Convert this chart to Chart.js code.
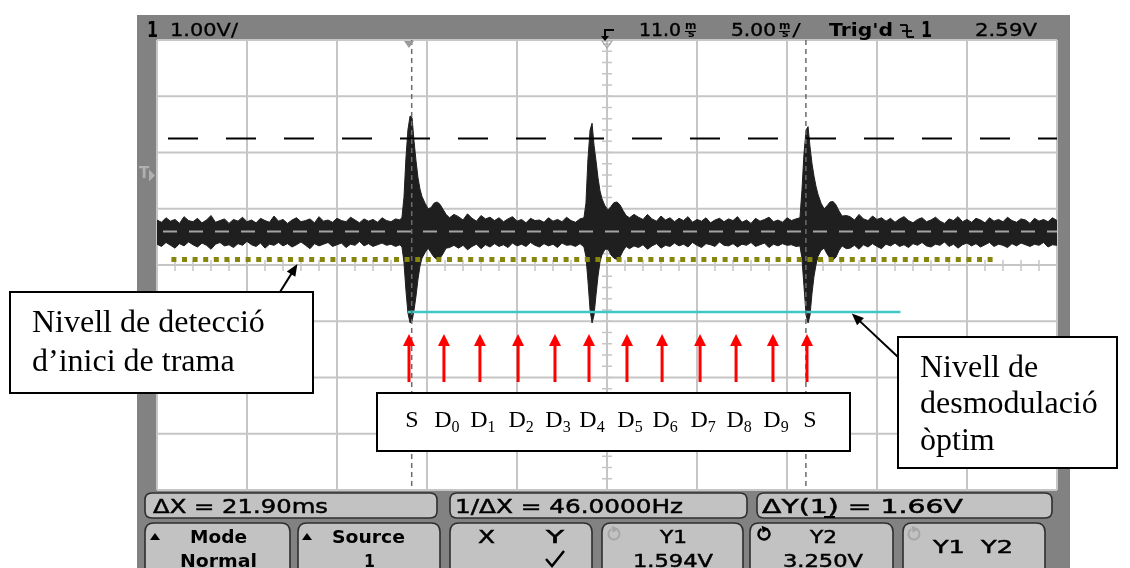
<!DOCTYPE html>
<html>
<head>
<meta charset="utf-8">
<script src="https://cdn.jsdelivr.net/npm/chart.js@4/dist/chart.umd.min.js"></script>
<style>
  html, body { margin: 0; padding: 0; background: #fff; overflow: hidden; }
  canvas { display: block; }
</style>
</head>
<body>
<canvas id="scope" width="1130" height="568"></canvas>
<script>
// ---------------- Oscilloscope capture: channel 1 ----------------
// Horizontal: 5.00 ms/div, 11.0 ms delay  ->  -14 ms .. 36 ms
// Vertical:   1.00 V/div                  ->  -3 V .. 5 V
const timeDivisions = [-14, -9, -4, 1, 6, 11, 16, 21, 26, 31, 36];
const voltDivisions = [-3, -2, -1, 0, 1, 2, 3, 4, 5];

// Peak-detect envelope of the trace (ms, upper V, lower V)
const traceTime = [
  -14, -13.75, -13.5, -13.25, -13, -12.75, -12.5, -12.25, -12, -11.75,
  -11.5, -11.25, -11, -10.75, -10.5, -10.25, -10, -9.75, -9.5, -9.25,
  -9, -8.75, -8.5, -8.25, -8, -7.75, -7.5, -7.25, -7, -6.75,
  -6.5, -6.25, -6, -5.75, -5.5, -5.25, -5, -4.75, -4.5, -4.25,
  -4, -3.75, -3.5, -3.25, -3, -2.75, -2.5, -2.25, -2, -1.75,
  -1.5, -1.25, -1, -0.75, -0.5,
  -0.39, -0.28, -0.17, -0.06, 0.06, 0.17, 0.28, 0.39, 0.50, 0.61,
  0.72, 0.89, 1.06, 1.22, 1.39, 1.56, 1.72, 1.89, 2.06, 2.25, 2.50,
  2.75, 3, 3.25, 3.5, 3.75, 4, 4.25, 4.5, 4.75, 5,
  5.25, 5.5, 5.75, 6, 6.25, 6.5, 6.75, 7, 7.25, 7.5,
  7.75, 8, 8.25, 8.5, 8.75, 9, 9.25, 9.5,
  9.72, 9.83, 9.94, 10.06, 10.17, 10.28, 10.39, 10.5, 10.61, 10.72,
  10.89, 11.06, 11.22, 11.39, 11.56, 11.72, 11.89, 12.06, 12.25, 12.5,
  12.75, 13, 13.25, 13.5, 13.75, 14, 14.25, 14.5, 14.75, 15,
  15.25, 15.5, 15.75, 16, 16.25, 16.5, 16.75, 17, 17.25, 17.5,
  17.75, 18, 18.25, 18.5, 18.75, 19, 19.25, 19.5, 19.75, 20,
  20.25, 20.5, 20.75, 21, 21.25, 21.5,
  21.72, 21.83, 21.94, 22.06, 22.17, 22.28, 22.39, 22.5, 22.61, 22.72,
  22.89, 23.06, 23.22, 23.39, 23.56, 23.72, 23.89, 24.06, 24.3,
  24.5, 24.75, 25, 25.25, 25.5, 25.75, 26, 26.25, 26.5, 26.75,
  27, 27.25, 27.5, 27.75, 28, 28.25, 28.5, 28.75, 29, 29.25,
  29.5, 29.75, 30, 30.25, 30.5, 30.75, 31, 31.25, 31.5, 31.75,
  32, 32.25, 32.5, 32.75, 33, 33.25, 33.5, 33.75, 34, 34.25,
  34.5, 34.75, 35, 35.25, 35.5, 35.75, 36
];
const traceHigh = [
  1.80, 1.76, 1.84, 1.78, 1.81, 1.74, 1.86, 1.79, 1.77, 1.83,
  1.75, 1.80, 1.88, 1.76, 1.79, 1.82, 1.74, 1.81, 1.78, 1.85,
  1.77, 1.80, 1.75, 1.83, 1.79, 1.76, 1.87, 1.78, 1.81, 1.74,
  1.80, 1.84, 1.77, 1.79, 1.82, 1.75, 1.86, 1.78, 1.80, 1.76,
  1.83, 1.79, 1.77, 1.85, 1.80, 1.75, 1.82, 1.78, 1.81, 1.76,
  1.84, 1.79, 1.77, 1.82, 1.80,
  1.85, 2.20, 2.90, 3.40, 3.65, 3.62, 3.20, 2.85, 2.55, 2.35,
  2.22, 2.10, 2.00, 2.02, 2.10, 2.12, 2.08, 1.99, 1.90, 1.84, 1.90,
  1.86, 1.80, 1.91, 1.83, 1.78, 1.88, 1.82, 1.85, 1.79, 1.84,
  1.77, 1.82, 1.86, 1.78, 1.81, 1.75, 1.83, 1.79, 1.80, 1.76,
  1.84, 1.78, 1.81, 1.77, 1.85, 1.79, 1.76, 1.82,
  1.84, 2.10, 2.87, 3.40, 3.52, 3.13, 2.85, 2.55, 2.32, 2.18,
  2.05, 1.98, 2.04, 2.11, 2.12, 2.07, 1.97, 1.88, 1.84, 1.90,
  1.85, 1.81, 1.90, 1.82, 1.78, 1.87, 1.80, 1.84, 1.77, 1.83,
  1.79, 1.86, 1.76, 1.81, 1.78, 1.84, 1.75, 1.80, 1.83, 1.77,
  1.82, 1.79, 1.86, 1.76, 1.80, 1.74, 1.83, 1.78, 1.81, 1.85,
  1.77, 1.80, 1.76, 1.84, 1.79, 1.82,
  1.84, 2.33, 2.96, 3.40, 3.46, 3.10, 2.80, 2.58, 2.40, 2.26,
  2.10, 2.00, 2.05, 2.12, 2.13, 2.07, 1.96, 1.87, 1.88,
  1.86, 1.80, 1.90, 1.82, 1.79, 1.87, 1.81, 1.84, 1.78, 1.83,
  1.76, 1.82, 1.86, 1.79, 1.75, 1.81, 1.84, 1.77, 1.80, 1.85,
  1.78, 1.74, 1.82, 1.79, 1.86, 1.77, 1.81, 1.76, 1.83, 1.80,
  1.75, 1.84, 1.78, 1.81, 1.77, 1.85, 1.79, 1.76, 1.82, 1.80,
  1.74, 1.83, 1.78, 1.81, 1.77, 1.84, 1.79
];
const traceLow = [
  1.37, 1.33, 1.40, 1.35, 1.30, 1.38, 1.34, 1.41, 1.36, 1.32,
  1.39, 1.35, 1.28, 1.37, 1.40, 1.34, 1.36, 1.31, 1.38, 1.35,
  1.42, 1.36, 1.33, 1.39, 1.30, 1.37, 1.35, 1.40, 1.34, 1.38,
  1.32, 1.36, 1.41, 1.35, 1.29, 1.38, 1.34, 1.37, 1.40, 1.33,
  1.36, 1.39, 1.31, 1.37, 1.35, 1.42, 1.34, 1.38, 1.33, 1.36,
  1.39, 1.35, 1.37, 1.33, 1.36,
  1.32, 1.05, 0.55, 0.15, -0.03, 0.00, 0.20, 0.45, 0.75, 0.98,
  1.12, 1.22, 1.30, 1.22, 1.14, 1.10, 1.12, 1.20, 1.30, 1.31, 1.35,
  1.30, 1.35, 1.27, 1.33, 1.37, 1.29, 1.36, 1.32, 1.38, 1.33,
  1.36, 1.31, 1.39, 1.34, 1.37, 1.33, 1.40, 1.35, 1.32, 1.38,
  1.34, 1.37, 1.31, 1.39, 1.35, 1.36, 1.33, 1.38,
  1.32, 1.15, 0.73, 0.20, -0.03, 0.11, 0.47, 0.80, 1.05, 1.18,
  1.28, 1.28, 1.18, 1.12, 1.10, 1.14, 1.25, 1.33, 1.29, 1.34,
  1.31, 1.36, 1.28, 1.34, 1.38, 1.30, 1.35, 1.33, 1.39, 1.34,
  1.37, 1.32, 1.40, 1.35, 1.31, 1.38, 1.36, 1.33, 1.41, 1.35,
  1.34, 1.38, 1.32, 1.37, 1.35, 1.40, 1.33, 1.36, 1.39, 1.31,
  1.37, 1.34, 1.38, 1.35, 1.36, 1.33,
  1.34, 1.12, 0.64, 0.11, -0.03, 0.11, 0.50, 0.80, 1.00, 1.15,
  1.26, 1.30, 1.20, 1.12, 1.09, 1.14, 1.26, 1.34, 1.29,
  1.30, 1.35, 1.28, 1.36, 1.32, 1.38, 1.33, 1.29, 1.37, 1.34,
  1.39, 1.33, 1.36, 1.31, 1.38, 1.35, 1.40, 1.34, 1.32, 1.37,
  1.35, 1.41, 1.33, 1.37, 1.30, 1.36, 1.39, 1.34, 1.38, 1.32,
  1.36, 1.40, 1.33, 1.37, 1.35, 1.31, 1.38, 1.34, 1.39, 1.36,
  1.33, 1.37, 1.35, 1.40, 1.32, 1.36, 1.35
];

// Decision levels (V) and their extent in time (ms)
const frameStartLevel = [1.10, 1.10];
const frameStartSpan = [-13.2, 32.7];
const demodLevel = [0.164, 0.164];
const demodSpan = [-0.06, 27.3];

// Bit sampling instants (ms) and their names
const bitTimes = [0.0, 1.94, 3.94, 6.06, 8.11, 10.0, 12.11, 14.06, 16.17, 18.17, 20.22, 22.11];
const bitNames = ['S', 'D', 'D', 'D', 'D', 'D', 'D', 'D', 'D', 'D', 'D', 'S'];
const bitIndex = ['', '0', '1', '2', '3', '4', '5', '6', '7', '8', '9', ''];

// Cursors and trigger
const cursorX = [0.15, 22.05];      // ms  (ΔX = 21.90 ms)
const cursorY = [1.594, 3.250];     // V   (ΔY = 1.66 V)
const triggerLevel = 2.59;          // V
const triggerTime = 0;              // ms
const delayTime = 11.0;             // ms (screen centre)

// Readouts
const topReadouts = { channel: '1', scale: '1.00V/', delay: '11.0', timebase: '5.00', trig: "Trig'd", trigSrc: '1', level: '2.59V' };
const measureReadouts = ['ΔX = 21.90ms', '1/ΔX = 46.0000Hz', 'ΔY(1) = 1.66V'];
const softkeys = [
  { top: 'Mode', bottom: 'Normal' },
  { top: 'Source', bottom: '1' },
  { top: 'X      Y', bottom: '' },
  { top: 'Y1', bottom: '1.594V' },
  { top: 'Y2', bottom: '3.250V' },
  { top: 'Y1  Y2', bottom: '' }
];

// ---------------- drawing helpers ----------------
const FRAME = '#828282';
const GRID = '#c6c6c6';
const MONO = '"DejaVu Sans"';
const SERIF = '"Liberation Serif", "Times New Roman", serif';

function fitText(ctx, text, x0, x1, y, font, color, thicken) {
  ctx.save();
  ctx.font = font;
  ctx.fillStyle = color || '#000';
  ctx.textAlign = 'left';
  ctx.textBaseline = 'alphabetic';
  const w = ctx.measureText(text).width;
  ctx.translate(x0, y);
  ctx.scale((x1 - x0) / w, 1);
  ctx.fillText(text, 0, 0);
  if (thicken) {
    ctx.strokeStyle = color || '#000';
    ctx.lineWidth = thicken;
    ctx.strokeText(text, 0, 0);
  }
  ctx.restore();
}
function line(ctx, x0, y0, x1, y1) {
  ctx.beginPath(); ctx.moveTo(x0, y0); ctx.lineTo(x1, y1); ctx.stroke();
}
function roundBox(ctx, x0, y0, x1, y1, r, fill, stroke) {
  ctx.beginPath();
  ctx.moveTo(x0 + r, y0);
  ctx.lineTo(x1 - r, y0); ctx.quadraticCurveTo(x1, y0, x1, y0 + r);
  ctx.lineTo(x1, y1 - r); ctx.quadraticCurveTo(x1, y1, x1 - r, y1);
  ctx.lineTo(x0 + r, y1); ctx.quadraticCurveTo(x0, y1, x0, y1 - r);
  ctx.lineTo(x0, y0 + r); ctx.quadraticCurveTo(x0, y0, x0 + r, y0);
  ctx.closePath();
  ctx.fillStyle = fill; ctx.fill();
  ctx.lineWidth = 1.6; ctx.strokeStyle = stroke; ctx.stroke();
}
function arrowHead(ctx, xTip, yTip, xFrom, yFrom, len, half) {
  const a = Math.atan2(yTip - yFrom, xTip - xFrom);
  ctx.beginPath();
  ctx.moveTo(xTip, yTip);
  ctx.lineTo(xTip - len * Math.cos(a) + half * Math.sin(a), yTip - len * Math.sin(a) - half * Math.cos(a));
  ctx.lineTo(xTip - len * Math.cos(a) - half * Math.sin(a), yTip - len * Math.sin(a) + half * Math.cos(a));
  ctx.closePath();
  ctx.fill();
}
function stackedMs(ctx, x, y) {
  ctx.save();
  ctx.fillStyle = '#000';
  ctx.font = 'bold 11px ' + MONO;
  ctx.fillText('m', x, y - 8);
  ctx.fillText('s', x + 3, y);
  ctx.fillRect(x, y - 6, 11, 1);
  ctx.restore();
}
function refreshIcon(ctx, cx, cy, color, w) {
  ctx.save();
  ctx.strokeStyle = color; ctx.fillStyle = color; ctx.lineWidth = w;
  ctx.beginPath(); ctx.arc(cx, cy, 5.5, -0.4 * Math.PI, 1.35 * Math.PI); ctx.stroke();
  const ax = cx + 5.5 * Math.cos(-0.4 * Math.PI), ay = cy + 5.5 * Math.sin(-0.4 * Math.PI);
  ctx.beginPath(); ctx.moveTo(ax - 4, ay - 3); ctx.lineTo(ax + 3, ay); ctx.lineTo(ax - 3, ay + 4); ctx.closePath(); ctx.fill();
  ctx.restore();
}

// ---------------- scope frame, graticule and readouts ----------------
const scopePlugin = {
  id: 'scopeFrame',
  beforeDraw(chart) {
    const { ctx, chartArea: a } = chart;
    ctx.save();
    ctx.fillStyle = '#fff';
    ctx.fillRect(0, 0, chart.width, chart.height);
    ctx.fillStyle = FRAME;
    ctx.fillRect(137, 15, 1070 - 137, 568 - 15);
    ctx.fillStyle = '#fff';
    ctx.fillRect(a.left, a.top, a.right - a.left, a.bottom - a.top);
    ctx.restore();
  },
  beforeDatasetsDraw(chart) {
    const { ctx, chartArea: a, scales: { x: xs, y: ys } } = chart;
    ctx.save();
    ctx.strokeStyle = GRID;
    ctx.lineWidth = 2;
    timeDivisions.forEach(t => { const x = xs.getPixelForValue(t); line(ctx, x, a.top, x, a.bottom); });
    voltDivisions.forEach(v => { const y = ys.getPixelForValue(v); line(ctx, a.left, y, a.right, y); });
    // minor ticks on the centre axes
    const cx = xs.getPixelForValue(delayTime);
    const cy = ys.getPixelForValue((voltDivisions[0] + voltDivisions[voltDivisions.length - 1]) / 2);
    ctx.lineWidth = 1.5;
    for (let v = voltDivisions[0]; v <= voltDivisions[voltDivisions.length - 1] + 1e-9; v += 0.2) {
      const y = ys.getPixelForValue(v); line(ctx, cx - 5, y, cx + 5, y);
    }
    for (let t = timeDivisions[0]; t <= timeDivisions[timeDivisions.length - 1] + 1e-9; t += 1) {
      const x = xs.getPixelForValue(t); line(ctx, x, cy - 5, x, cy + 6);
    }
    ctx.restore();
  },
  afterDatasetsDraw(chart) {
    const { ctx, chartArea: a, scales: { x: xs, y: ys } } = chart;

    // ---- cursors ----
    ctx.save();
    ctx.beginPath(); ctx.rect(a.left, a.top, a.right - a.left, a.bottom - a.top); ctx.clip();
    ctx.lineCap = 'butt';
    let y = ys.getPixelForValue(cursorY[0]);
    ctx.strokeStyle = '#a4a4a4'; ctx.lineWidth = 2; ctx.setLineDash([14, 12]); ctx.lineDashOffset = 20;
    line(ctx, a.left, y, a.right, y);
    y = ys.getPixelForValue(cursorY[1]);
    ctx.strokeStyle = '#000'; ctx.lineWidth = 2; ctx.setLineDash([30, 28]); ctx.lineDashOffset = 47;
    line(ctx, a.left, y, a.right, y);
    ctx.strokeStyle = '#6c6c6c'; ctx.lineWidth = 1.5; ctx.setLineDash([5, 4]); ctx.lineDashOffset = 0;
    cursorX.forEach(t => { const x = xs.getPixelForValue(t); line(ctx, x, a.top, x, a.bottom); });
    ctx.restore();

    // ---- trigger position / delay markers at the top edge ----
    ctx.save();
    const xt = xs.getPixelForValue(triggerTime);
    ctx.fillStyle = '#9a9a9a';
    ctx.beginPath(); ctx.moveTo(xt - 5, a.top + 1); ctx.lineTo(xt + 5, a.top + 1); ctx.lineTo(xt, a.top + 8); ctx.closePath(); ctx.fill();
    const xd = xs.getPixelForValue(delayTime);
    ctx.strokeStyle = '#a8a8a8'; ctx.lineWidth = 1.2;
    ctx.beginPath(); ctx.moveTo(xd - 5, a.top + 1); ctx.lineTo(xd + 5, a.top + 1); ctx.lineTo(xd, a.top + 8); ctx.closePath(); ctx.stroke();
    line(ctx, xd - 4, a.top + 4, xd + 4, a.top + 4);
    // trigger level marker on the left edge
    const yl = ys.getPixelForValue(triggerLevel);
    ctx.fillStyle = '#b0b0b0';
    ctx.font = 'bold 15px ' + MONO;
    ctx.fillText('T', 139, yl + 2);
    ctx.beginPath(); ctx.moveTo(149, yl - 6); ctx.lineTo(155, yl); ctx.lineTo(149, yl + 6); ctx.closePath(); ctx.fill();
    ctx.restore();

    // ---- top status line ----
    ctx.save();
    const tf = '18px ' + MONO;
    fitText(ctx, topReadouts.channel, 147, 158, 37, 'bold 22px ' + MONO);
    fitText(ctx, topReadouts.scale, 170, 238, 36, tf, '#000', 0.3);
    // delay symbol
    ctx.strokeStyle = '#000'; ctx.fillStyle = '#000'; ctx.lineWidth = 2;
    line(ctx, 605, 30, 614, 30);
    line(ctx, 605, 29, 605, 37);
    ctx.beginPath(); ctx.moveTo(601, 36); ctx.lineTo(609, 36); ctx.lineTo(605, 41); ctx.closePath(); ctx.fill();
    fitText(ctx, topReadouts.delay, 639, 681, 36, tf, '#000', 0.4);
    stackedMs(ctx, 685, 37);
    fitText(ctx, topReadouts.timebase, 731, 776, 36, tf, '#000', 0.4);
    stackedMs(ctx, 779, 37);
    fitText(ctx, '/', 792, 801, 36, tf);
    fitText(ctx, topReadouts.trig, 829, 893, 36, 'bold 17px ' + MONO);
    // falling-edge trigger symbol
    ctx.lineWidth = 1.8;
    line(ctx, 900, 25, 907, 25);
    line(ctx, 907, 25, 907, 37);
    line(ctx, 907, 37, 914, 37);
    line(ctx, 902, 31, 912, 31);
    fitText(ctx, topReadouts.trigSrc, 921, 932, 37, 'bold 22px ' + MONO);
    fitText(ctx, topReadouts.level, 975, 1037, 36, tf, '#000', 0.3);
    ctx.restore();

    // ---- measurement line and softkeys ----
    ctx.save();
    const boxFill = '#c2c2c2', boxLine = '#2e2e2e';
    roundBox(ctx, 145, 493, 437, 518, 7, boxFill, boxLine);
    roundBox(ctx, 450, 493, 747, 518, 7, boxFill, boxLine);
    roundBox(ctx, 757, 493, 1052, 518, 7, boxFill, boxLine);
    const mf = '20px ' + MONO;
    fitText(ctx, measureReadouts[0], 153, 328, 513, mf, '#000', 0.5);
    fitText(ctx, measureReadouts[1], 455, 683, 513, mf, '#000', 0.5);
    fitText(ctx, measureReadouts[2], 762, 963, 513, mf, '#000', 0.5);
    ctx.fillStyle = '#000'; ctx.fillRect(824, 516, 11, 2);

    const keyX = [[145, 290], [298, 440], [450, 592], [602, 743], [750, 893], [903, 1045]];
    keyX.forEach(([x0, x1]) => roundBox(ctx, x0, 523, x1, 580, 9, boxFill, boxLine));
    const kf = 'bold 18px ' + MONO;
    const rf = '18px ' + MONO;
    ctx.fillStyle = '#000';
    [[150, 160], [302, 312]].forEach(([x0, x1]) => {
      ctx.beginPath(); ctx.moveTo(x0, 540); ctx.lineTo(x1, 540); ctx.lineTo((x0 + x1) / 2, 533); ctx.closePath(); ctx.fill();
    });
    fitText(ctx, softkeys[0].top, 190, 247, 543, kf);
    fitText(ctx, softkeys[0].bottom, 180, 257, 567, kf);
    fitText(ctx, softkeys[1].top, 332, 405, 543, kf);
    fitText(ctx, softkeys[1].bottom, 364, 375, 567, kf);
    fitText(ctx, 'X', 478, 495, 543, rf, '#000', 0.5);
    fitText(ctx, 'Y', 546, 564, 543, rf, '#000', 0.5);
    ctx.strokeStyle = '#000'; ctx.lineWidth = 2.5;
    ctx.beginPath(); ctx.moveTo(546, 559); ctx.lineTo(552, 566); ctx.lineTo(564, 551); ctx.stroke();
    refreshIcon(ctx, 614, 534, '#a6a6a6', 2);
    fitText(ctx, softkeys[3].top, 660, 687, 543, rf, '#000', 0.5);
    fitText(ctx, softkeys[3].bottom, 633, 713, 567, rf, '#000', 0.5);
    refreshIcon(ctx, 764, 534, '#000', 2.4);
    fitText(ctx, softkeys[4].top, 810, 837, 543, rf, '#000', 0.5);
    fitText(ctx, softkeys[4].bottom, 783, 863, 567, rf, '#000', 0.5);
    refreshIcon(ctx, 914, 534, '#a6a6a6', 2);
    fitText(ctx, softkeys[5].top, 933, 1013, 553, rf, '#000', 0.5);
    ctx.restore();

    // ---- bit sampling arrows ----
    ctx.save();
    const yTip = ys.getPixelForValue(-0.227);
    const yTail = ys.getPixelForValue(-1.08);
    ctx.strokeStyle = '#ff0000'; ctx.fillStyle = '#ff0000'; ctx.lineWidth = 3;
    bitTimes.forEach(t => {
      const x = xs.getPixelForValue(t);
      line(ctx, x, yTip + 8, x, yTail);
      ctx.beginPath(); ctx.moveTo(x, yTip); ctx.lineTo(x - 6, yTip + 12); ctx.lineTo(x + 6, yTip + 12); ctx.closePath(); ctx.fill();
    });
    ctx.restore();

    // ---- annotation boxes ----
    ctx.save();
    ctx.lineWidth = 2; ctx.strokeStyle = '#000'; ctx.fillStyle = '#fff';
    // frame-start detection level
    ctx.fillRect(10, 292, 303, 101); ctx.strokeRect(10, 292, 303, 101);
    // bit labels
    ctx.fillRect(377, 393, 473, 58); ctx.strokeRect(377, 393, 473, 58);
    // optimum demodulation level
    ctx.fillRect(898, 337, 219, 131); ctx.strokeRect(898, 337, 219, 131);

    ctx.fillStyle = '#000';
    ctx.textBaseline = 'alphabetic'; ctx.textAlign = 'left';
    ctx.font = '32px ' + SERIF;
    ctx.fillText('Nivell de detecció', 32, 332);
    ctx.fillText('d’inici de trama', 32, 371);
    ctx.fillText('Nivell de', 920, 377);
    ctx.fillText('desmodulació', 920, 413);
    ctx.fillText('òptim', 920, 450);

    bitTimes.forEach((t, i) => {
      const main = bitNames[i], sub = bitIndex[i];
      ctx.font = '24px ' + SERIF;
      const wm = ctx.measureText(main).width;
      ctx.font = '16px ' + SERIF;
      const ws = sub ? ctx.measureText(sub).width : 0;
      const x0 = xs.getPixelForValue(t) + 3 - (wm + ws) / 2;
      ctx.font = '24px ' + SERIF;
      ctx.fillText(main, x0, 427);
      if (sub) { ctx.font = '16px ' + SERIF; ctx.fillText(sub, x0 + wm, 432); }
    });

    // pointers to the two levels
    ctx.lineWidth = 2;
    const lt = { x: xs.getPixelForValue(-6.2), y: ys.getPixelForValue(1.02) };
    line(ctx, 280, 292, lt.x - 3, lt.y + 5);
    arrowHead(ctx, lt.x, lt.y, 280, 292, 12, 5);
    const rt = { x: xs.getPixelForValue(24.6), y: ys.getPixelForValue(0.14) };
    line(ctx, 898, 357, rt.x + 4, rt.y + 4);
    arrowHead(ctx, rt.x, rt.y, 898, 357, 12, 5);
    ctx.restore();
  }
};

// ---------------- chart ----------------
const upper = traceTime.map((t, i) => ({ x: t, y: traceHigh[i] }));
const lower = traceTime.map((t, i) => ({ x: t, y: traceLow[i] }));

new Chart(document.getElementById('scope'), {
  type: 'line',
  data: {
    datasets: [
      { data: upper, borderColor: '#1f1f1f', borderWidth: 1, pointRadius: 0, fill: false, order: 3, tension: 0 },
      { data: lower, borderColor: '#1f1f1f', borderWidth: 1, pointRadius: 0, fill: 0, backgroundColor: '#1f1f1f', order: 3, tension: 0 },
      { data: frameStartSpan.map((t, i) => ({ x: t, y: frameStartLevel[i] })),
        borderColor: '#86860c', borderWidth: 5, borderDash: [5, 5.6], borderCapStyle: 'butt', pointRadius: 0, fill: false, order: 1 },
      { data: demodSpan.map((t, i) => ({ x: t, y: demodLevel[i] })),
        borderColor: '#3ec8c8', borderWidth: 2.5, pointRadius: 0, fill: false, order: 1 }
    ]
  },
  options: {
    responsive: false,
    animation: false,
    devicePixelRatio: 1,
    layout: { padding: { left: 157, top: 40, right: 73, bottom: 78 } },
    scales: {
      x: { type: 'linear', min: -14, max: 36, display: false },
      y: { type: 'linear', min: -3, max: 5, display: false }
    },
    plugins: { legend: { display: false }, tooltip: { enabled: false } },
    elements: { line: { borderJoinStyle: 'miter' } }
  },
  plugins: [scopePlugin]
});
</script>
</body>
</html>
